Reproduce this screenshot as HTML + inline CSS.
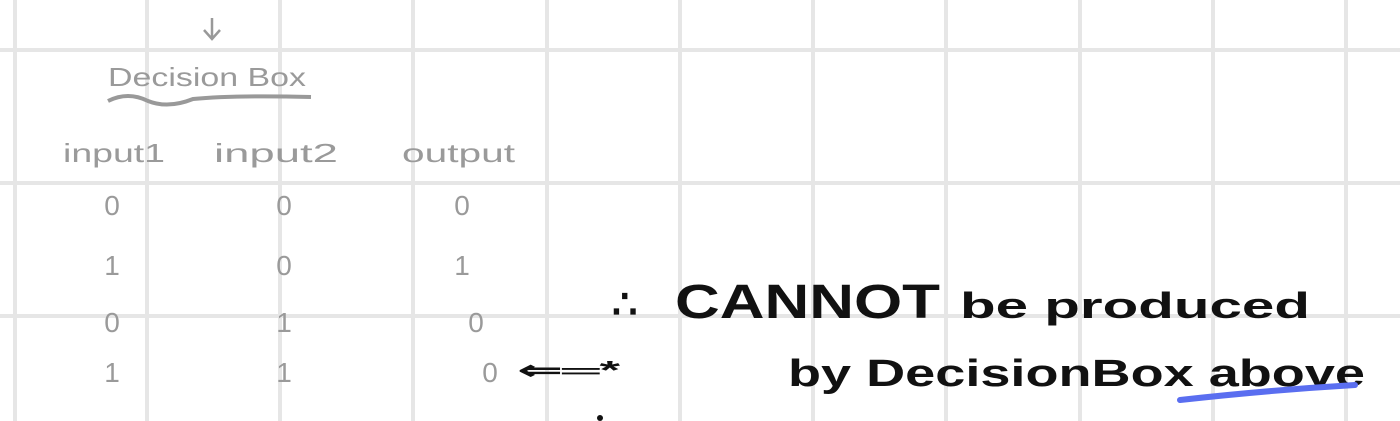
<!DOCTYPE html>
<html><head><meta charset="utf-8"><style>
html,body{margin:0;padding:0;background:#fff;width:1400px;height:421px;overflow:hidden}
svg{display:block}
.g{font-family:"Liberation Sans",sans-serif;fill:#9a9a9a}
.b{font-family:"Liberation Sans",sans-serif;fill:#111;font-weight:bold}
</style></head><body>
<svg width="1400" height="421">
<g id="grid" stroke="#e6e6e6" stroke-width="4"></g>
<g>
<path d="M212 18 v20 M204 30 l8 9 l8 -9" stroke="#999" stroke-width="2.5" fill="none"/>
<text class="g" x="108" y="86" font-size="26" textLength="198" lengthAdjust="spacingAndGlyphs">Decision Box</text>
<path d="M108 101 q20 -10 40 0 q20 8 45 -2 q40 -4 118 -2" stroke="#999" stroke-width="4" fill="none"/>
<text class="g" x="63" y="162" font-size="26" textLength="102" lengthAdjust="spacingAndGlyphs">input1</text>
<text class="g" x="214" y="162" font-size="26" textLength="124" lengthAdjust="spacingAndGlyphs">input2</text>
<text class="g" x="402" y="162" font-size="26" textLength="113" lengthAdjust="spacingAndGlyphs">output</text>
<g id="rows"></g>
</g>
<g>
<text class="b" x="518" y="379" font-size="26" textLength="102" lengthAdjust="spacingAndGlyphs">⇐═*</text>
<text class="b" x="612" y="318" font-size="40"><tspan textLength="50">∴</tspan><tspan x="675" textLength="265" lengthAdjust="spacingAndGlyphs" font-size="48">CANNOT</tspan><tspan x="960" textLength="350" lengthAdjust="spacingAndGlyphs" font-size="36">be produced</tspan></text>
<text class="b" x="788" y="386" font-size="38" textLength="577" lengthAdjust="spacingAndGlyphs">by DecisionBox above</text>
<path d="M1180 400 q90 -10 175 -15" stroke="#5a6ef0" stroke-width="6" fill="none" stroke-linecap="round"/>
<circle cx="600" cy="418" r="3" fill="#111"/>
</g>
</svg>
<script>
const gridX=[15,147,280,413,547,680,813,946,1080,1213,1346];
const gridY=[50,183,316];
const input1=[0,1,0,1];
const input2=[0,0,1,1];
const output=[0,1,0,0];
const ns="http://www.w3.org/2000/svg";
const grid=document.getElementById('grid');
gridX.forEach(x=>{const l=document.createElementNS(ns,'line');


l.setAttribute('x1',x);l.setAttribute('x2',x);l.setAttribute('y1',0);l.setAttribute('y2',421);grid.appendChild(l);});
gridY.forEach(y=>{const l=document.createElementNS(ns,'line');


l.setAttribute('x1',0);l.setAttribute('x2',1400);l.setAttribute('y1',y);l.setAttribute('y2',y);grid.appendChild(l);});
const rows=document.getElementById('rows');
const rowY=[215,275,332,382];
const cols=[[input1,112],[input2,284],[output,462]];
cols.forEach(([arr,x],ci)=>arr.forEach((v,i)=>{const t=document.createElementNS(ns,'text');


t.setAttribute('class','g');t.setAttribute('font-size','28');t.setAttribute('text-anchor','middle');
t.setAttribute('x',x+(ci==2&&i==3?28:(ci==2&&i==2?14:0)));t.setAttribute('y',rowY[i]);t.textContent=v;rows.appendChild(t);}));
</script>
</body></html>
